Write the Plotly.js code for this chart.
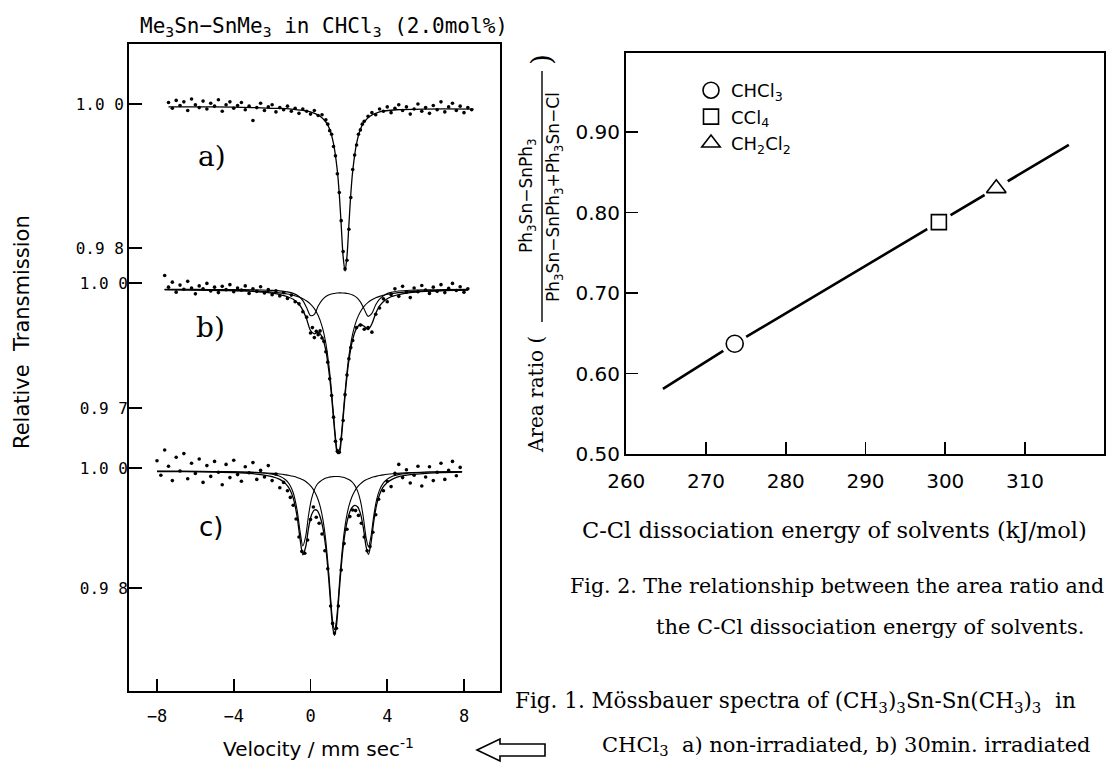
<!DOCTYPE html>
<html><head><meta charset="utf-8">
<script src="https://cdn.plot.ly/plotly-3.0.1.min.js"></script>
<style>html,body{margin:0;padding:0;background:#fff;}#chart{width:1108px;height:764px;}</style>
</head><body><div id="chart"></div>
<script>
// ---------- Fig. 1 : Mössbauer spectra (velocity mm/s, relative transmission) ----------
const velA = [-7.4,-7.2,-7.0,-6.8,-6.6,-6.4,-6.2,-6.0,-5.8,-5.6,-5.4,-5.2,-5.0,-4.8,-4.6,-4.4,-4.2,-4.0,-3.8,-3.6,-3.4,-3.2,-3.0,-2.8,-2.6,-2.4,-2.2,-2.0,-1.8,-1.6,-1.4,-1.2,-1.0,-0.8,-0.6,-0.4,-0.2,0.0,0.2,0.4,0.6,0.8,
  0.9,1.0,1.1,1.2,1.3,1.4,1.5,1.6,1.7,1.8,1.9,2.0,2.1,2.2,2.3,2.4,2.5,2.6,2.7,2.8,
  3.0,3.2,3.4,3.6,3.8,4.0,4.2,4.4,4.6,4.8,5.0,5.2,5.4,5.6,5.8,6.0,6.2,6.4,6.6,6.8,7.0,7.2,7.4,7.6,7.8,8.0,8.2,8.4];
const transA = [1.0002,0.9994,1.0005,0.9998,1.0003,0.9991,1.0007,0.9999,0.9995,1.0004,0.9993,1.0001,0.9997,1.0006,0.9990,0.9999,1.0003,0.9994,0.9998,1.0002,0.9992,0.9997,0.9977,0.9995,1.0001,0.9991,0.9996,0.9999,0.9989,0.9995,0.9992,0.9997,0.9990,0.9994,0.9987,0.9993,0.9990,0.9986,0.9991,0.9984,0.9985,0.9978,
  0.9972,0.9963,0.9958,0.9941,0.9928,0.9903,0.9877,0.9838,0.9795,0.9771,0.9783,0.9826,0.9870,0.9909,0.9929,0.9943,0.9958,0.9964,0.9972,0.9976,
  0.9983,0.9988,0.9985,0.9993,0.9990,0.9996,0.9988,0.9994,0.9999,0.9991,0.9996,0.9986,0.9993,1.0000,0.9990,0.9995,0.9987,0.9998,0.9992,1.0003,0.9989,0.9996,1.0001,0.9991,0.9997,0.9988,0.9995,0.9992];
const fitVelA = [-7.4,-5,-3,-2,-1,0,0.5,0.8,1.0,1.2,1.4,1.5,1.6,1.7,1.8,1.9,2.0,2.1,2.2,2.4,2.6,2.8,3.1,3.6,4.5,6,8.5];
const fitA = [0.9996,0.9996,0.9995,0.9994,0.9993,0.9989,0.9983,0.9975,0.9965,0.9945,0.9907,0.9875,0.9832,0.9788,0.9768,0.9788,0.9832,0.9875,0.9907,0.9945,0.9965,0.9975,0.9983,0.9989,0.9992,0.9993,0.9993];

const velB = [-7.6,-7.4,-7.2,-7.0,-6.8,-6.6,-6.4,-6.2,-6.0,-5.8,-5.6,-5.4,-5.2,-5.0,-4.8,-4.6,-4.4,-4.2,-4.0,-3.8,-3.6,-3.4,-3.2,-3.0,-2.8,-2.6,-2.4,-2.2,-2.0,-1.8,-1.6,-1.4,-1.2,-1.0,-0.8,-0.6,-0.4,-0.2,
  0.0,0.1,0.2,0.3,0.4,0.5,0.6,0.7,0.8,0.9,1.0,1.1,1.2,1.3,1.4,1.5,1.6,1.7,1.8,1.9,2.0,2.1,2.2,
  2.4,2.6,2.8,3.0,3.2,3.4,3.6,3.8,4.0,4.2,4.4,4.6,4.8,5.0,5.2,5.4,5.6,5.8,6.0,6.2,6.4,6.6,6.8,7.0,7.2,7.4,7.6,7.8,8.0,8.2];
const transB = [1.0018,0.9990,1.0002,0.9978,0.9995,0.9985,1.0004,0.9988,0.9974,0.9993,0.9986,0.9999,0.9981,0.9990,0.9977,0.9992,0.9984,0.9996,0.9979,0.9988,0.9983,0.9993,0.9975,0.9986,0.9980,0.9991,0.9976,0.9984,0.9972,0.9981,0.9969,0.9977,0.9963,0.9971,0.9955,0.9950,0.9931,0.9918,
  0.9880,0.9893,0.9869,0.9884,0.9876,0.9885,0.9868,0.9860,0.9835,0.9810,0.9770,0.9730,0.9678,0.9620,0.9596,0.9594,0.9625,0.9670,0.9732,0.9779,0.9818,0.9845,0.9862,
  0.9893,0.9899,0.9889,0.9893,0.9882,0.9925,0.9940,0.9962,0.9955,0.9972,0.9986,0.9968,0.9992,0.9978,0.9965,0.9988,0.9979,0.9994,0.9983,0.9975,0.9990,0.9980,0.9996,0.9977,0.9987,0.9999,0.9982,0.9991,0.9978,0.9986];
const fitVelB = [-7.6,-6,-4.5,-3.5,-2.5,-2,-1.5,-1.2,-0.9,-0.6,-0.4,-0.2,0,0.2,0.4,0.6,0.8,1.0,1.1,1.2,1.3,1.4,1.5,1.6,1.7,1.8,1.9,2.0,2.2,2.4,2.6,2.8,3.0,3.2,3.4,3.6,3.9,4.2,4.6,5.2,6,7,8.2];
const fitB = [0.9984,0.9983,0.9982,0.9981,0.9978,0.99755,0.9971,0.9967,0.9961,0.9949,0.9935,0.9913,0.9886,0.9878,0.9882,0.9871,0.9838,0.9773,0.9727,0.9674,0.9623,0.9592,0.9591,0.9623,0.9675,0.9729,0.9776,0.9814,0.9865,0.9891,0.9901,0.9896,0.9888,0.9902,0.9927,0.9945,0.9959,0.9967,0.9972,0.9977,0.9980,0.9982,0.9983];
const singletB = [0.9984,0.99835,0.99827,0.99817,0.99798,0.99782,0.99757,0.99736,0.99706,0.99663,0.99623,0.99569,0.99493,0.99385,0.99222,0.98966,0.9855,0.97857,0.9738,0.9684,0.9632,0.9600,0.9600,0.9632,0.9684,0.9738,0.97857,0.98245,0.98784,0.99109,0.99312,0.99444,0.99534,0.99598,0.99645,0.99679,0.99717,0.99744,0.99769,0.99792,0.9981,0.99823,0.99832];
const doubletB = [0.99848,0.99846,0.99843,0.9984,0.99832,0.99823,0.99806,0.99787,0.99751,0.99676,0.99577,0.99407,0.99219,0.99247,0.99447,0.99591,0.99677,0.99723,0.99737,0.99747,0.99755,0.99759,0.99762,0.99762,0.99761,0.99757,0.9975,0.99743,0.99712,0.99654,0.99548,0.9937,0.9920,0.9927,0.9948,0.99615,0.99725,0.99775,0.99807,0.99826,0.99836,0.99842,0.99846];

const velC = [-8.0,-7.8,-7.6,-7.4,-7.2,-7.0,-6.8,-6.6,-6.4,-6.2,-6.0,-5.8,-5.6,-5.4,-5.2,-5.0,-4.8,-4.6,-4.4,-4.2,-4.0,-3.8,-3.6,-3.4,-3.2,-3.0,-2.8,-2.6,-2.4,-2.2,-2.0,-1.8,-1.6,-1.4,-1.2,
  -1.05,-0.9,-0.75,-0.6,-0.45,-0.3,-0.15,0.0,0.15,0.3,0.45,0.6,0.75,0.9,1.05,1.15,1.25,1.35,1.45,1.6,1.75,1.9,2.05,2.2,2.35,2.5,2.65,2.8,2.95,3.1,3.25,3.4,3.55,
  3.8,4.0,4.2,4.4,4.6,4.8,5.0,5.2,5.4,5.6,5.8,6.0,6.2,6.4,6.6,6.8,7.0,7.2,7.4,7.6,7.8];
const transC = [1.0012,0.9988,1.0030,1.0003,0.9979,1.0018,0.9995,1.0024,0.9982,1.0008,0.9991,1.0015,0.9976,1.0004,0.9986,1.0011,0.9993,0.9972,1.0006,0.9984,1.0013,0.9989,0.9978,1.0002,0.9992,1.0009,0.9981,0.9996,0.9985,1.0004,0.9979,0.9990,0.9967,0.9976,0.9962,
  0.9951,0.9938,0.9915,0.9885,0.9861,0.9858,0.9880,0.9914,0.9935,0.9918,0.9908,0.9890,0.9862,0.9832,0.9770,0.9741,0.9725,0.9733,0.9770,0.9830,0.9874,0.9898,0.9919,0.9930,0.9929,0.9921,0.9908,0.9885,0.9862,0.9869,0.9893,0.9922,0.9948,
  0.9962,0.9978,0.9969,0.9991,1.0006,0.9984,0.9997,0.9975,0.9988,1.0003,0.9970,0.9985,1.0002,0.9979,0.9993,1.0008,0.9981,0.9996,1.0011,0.9987,1.0001];
const fitVelC = [-8.0,-6.5,-5,-4,-3,-2.5,-2,-1.6,-1.3,-1.1,-0.9,-0.7,-0.55,-0.4,-0.25,-0.1,0.05,0.2,0.35,0.5,0.65,0.8,0.95,1.05,1.15,1.25,1.35,1.45,1.55,1.7,1.85,2.0,2.15,2.3,2.45,2.6,2.75,2.9,3.02,3.15,3.3,3.45,3.6,3.8,4.0,4.3,4.7,5.3,6.2,7.9];
const fitC = [0.99942,0.99938,0.99931,0.99923,0.99905,0.99887,0.99857,0.9981,0.9974,0.99654,0.99498,0.99194,0.98832,0.98553,0.98687,0.99003,0.99215,0.993,0.99292,0.99189,0.98995,0.98662,0.9815,0.97732,0.97362,0.97209,0.97365,0.97738,0.98159,0.98675,0.99016,0.99222,0.99335,0.99378,0.99354,0.99244,0.99011,0.98686,0.98559,0.98745,0.99116,0.99392,0.9956,0.99688,0.9976,0.9982,0.99863,0.99893,0.99916,0.99931];
const singletC = [0.99945,0.99943,0.99939,0.99935,0.99927,0.9992,0.9991,0.99899,0.99886,0.99875,0.99861,0.99843,0.99825,0.99803,0.99774,0.99736,0.99685,0.99614,0.99513,0.99364,0.99135,0.9878,0.98254,0.9783,0.97456,0.973,0.97456,0.9783,0.98254,0.9878,0.99135,0.99364,0.99513,0.99614,0.99685,0.99736,0.99774,0.99803,0.99821,0.99838,0.99853,0.99865,0.99875,0.99886,0.99895,0.99905,0.99915,0.99924,0.99933,0.9994];
const doubletC = [0.99947,0.99945,0.99942,0.99938,0.99928,0.99917,0.99897,0.99862,0.99804,0.99729,0.99587,0.99301,0.98957,0.987,0.98863,0.99217,0.9948,0.99636,0.99729,0.99775,0.9981,0.99832,0.99846,0.99852,0.99856,0.99859,0.99859,0.99858,0.99855,0.99845,0.99831,0.99808,0.99772,0.99714,0.99619,0.99458,0.99187,0.98833,0.98688,0.98857,0.99213,0.99477,0.99635,0.99752,0.99815,0.99865,0.99898,0.99919,0.99933,0.99941];

const velTickVals = [-8,-4,0,4,8];
const velTickText = ['−8','−4','0','4','8'];
const tickValsA = [1.00,0.98], tickTextA = ['1.0 0','0.9 8'];
const tickValsB = [1.00,0.97], tickTextB = ['1.0 0','0.9 7'];
const tickValsC = [1.00,0.98], tickTextC = ['1.0 0','0.9 8'];

// ---------- Fig. 2 : area ratio vs C-Cl dissociation energy ----------
const solvents = ['CHCl<sub>3</sub>','CCl<sub>4</sub>','CH<sub>2</sub>Cl<sub>2</sub>'];
const solventSymbols = ['circle','square','triangle-up'];
const energy = [273.6, 299.2, 306.4];
const ratio = [0.637, 0.788, 0.830];
const lineEnergy = [264.6, 273.6, 299.2, 306.4, 315.5];
const lineRatio = [0.581, 0.637, 0.788, 0.830, 0.884];
const energyTicks = [260,270,280,290,300,310];
const ratioTicks = [0.50,0.60,0.70,0.80,0.90];
const ratioTickText = ['0.50','0.60','0.70','0.80','0.90'];

// ---------- layout helpers (pixel -> paper) ----------
const W = 1108, H = 764;
const fx = p => p / W, fy = p => 1 - p / H;
function rangeAt(v1, p1, v2, p2, pa, pb) { const k = (v2 - v1) / (p2 - p1); return [v1 + (pa - p1) * k, v1 + (pb - p1) * k]; }
const L1 = 129, R1 = 500, T1 = 44, B1 = 691;
const L2 = 626, R2 = 1104, T2 = 53, B2 = 454;

const black = '#000';
const monoFont = {family: 'DejaVu Sans Mono', size: 16, color: black};

function pts(x, y, ya) { return {x, y, yaxis: ya, xaxis: 'x', type: 'scatter', mode: 'markers', marker: {size: 3.6, color: black}, showlegend: false, hoverinfo: 'skip'}; }
function fit(x, y, ya, w) { return {x, y, yaxis: ya, xaxis: 'x', type: 'scatter', mode: 'lines', line: {color: black, width: w || 1.3, shape: 'spline', smoothing: 0.8}, showlegend: false, hoverinfo: 'skip'}; }

const traces = [
  pts(velA, transA, 'y'), fit(fitVelA, fitA, 'y'),
  pts(velB, transB, 'y2'), fit(fitVelB, singletB, 'y2', 1.1), fit(fitVelB, doubletB, 'y2', 1.1), fit(fitVelB, fitB, 'y2'),
  pts(velC, transC, 'y3'), fit(fitVelC, singletC, 'y3', 1.1), fit(fitVelC, doubletC, 'y3', 1.1), fit(fitVelC, fitC, 'y3'),
  {x: lineEnergy, y: lineRatio, xaxis: 'x2', yaxis: 'y4', type: 'scatter', mode: 'lines', line: {color: black, width: 2.6}, showlegend: false, hoverinfo: 'skip'},
  {x: energy, y: ratio, xaxis: 'x2', yaxis: 'y4', type: 'scatter', mode: 'markers', marker: {size: 27, color: '#fff', symbol: 'circle'}, showlegend: false, hoverinfo: 'skip'}
];
solvents.forEach((s, i) => traces.push({
  x: [energy[i]], y: [ratio[i]], name: s, xaxis: 'x2', yaxis: 'y4', type: 'scatter', mode: 'markers',
  marker: {size: i === 1 ? 15 : 17, symbol: solventSymbols[i], color: '#fff', line: {color: black, width: 1.6}},
  hoverinfo: 'skip'
}));

const yBase = {anchor: 'x', domain: [fy(B1), fy(T1)], showgrid: false, zeroline: false, ticks: 'inside', ticklen: 13, tickwidth: 1.6, tickcolor: black, tickfont: monoFont, fixedrange: true};

const serif = 'DejaVu Serif';
const annotations = [
  {text: 'Me<sub>3</sub>Sn−SnMe<sub>3</sub> in CHCl<sub>3</sub> (2.0mol%)', x: fx(324), y: fy(27), font: {family: 'DejaVu Sans Mono', size: 21}},
  {text: 'a)', x: fx(212), y: fy(157), font: {family: serif, size: 28}},
  {text: 'b)', x: fx(210), y: fy(327), font: {family: serif, size: 28}},
  {text: 'c)', x: fx(211), y: fy(527), font: {family: 'DejaVu Sans', size: 26}},
  {text: 'Relative  Transmission', x: fx(22), y: fy(332), textangle: -90, font: {family: 'DejaVu Sans', size: 21}},
  {text: 'Velocity / mm sec<sup>-1</sup>', x: fx(318), y: fy(748), font: {family: 'DejaVu Sans', size: 20}},
  {text: 'Area ratio (', x: fx(536), y: fy(395), textangle: -90, font: {family: serif, size: 20}},
  {text: ')', x: fx(541), y: fy(60), textangle: -90, font: {family: serif, size: 28}},
  {text: 'Ph<sub>3</sub>Sn−SnPh<sub>3</sub>', x: fx(527), y: fy(196), textangle: -90, font: {family: 'DejaVu Sans', size: 17}},
  {text: 'Ph<sub>3</sub>Sn−SnPh<sub>3</sub>+Ph<sub>3</sub>Sn−Cl', x: fx(554), y: fy(197), textangle: -90, font: {family: 'DejaVu Sans', size: 17}},
  {text: 'C-Cl dissociation energy of solvents (kJ/mol)', x: fx(834), y: fy(530), font: {family: serif, size: 22.5}},
  {text: 'Fig. 2. The relationship between the area ratio and', x: fx(568), y: fy(586), xanchor: 'left', font: {family: serif, size: 20.6}},
  {text: 'the C-Cl dissociation energy of solvents.', x: fx(654), y: fy(627), xanchor: 'left', font: {family: serif, size: 21}},
  {text: 'Fig. 1. Mössbauer spectra of (CH<sub>3</sub>)<sub>3</sub>Sn-Sn(CH<sub>3</sub>)<sub>3</sub>  in', x: fx(513), y: fy(702), xanchor: 'left', font: {family: serif, size: 21.5}},
  {text: 'CHCl<sub>3</sub>  a) non-irradiated, b) 30min. irradiated', x: fx(600), y: fy(746), xanchor: 'left', font: {family: serif, size: 21}}
].map(a => Object.assign({xref: 'paper', yref: 'paper', showarrow: false, xanchor: 'center', yanchor: 'middle'}, a));
annotations.forEach(a => { a.font = Object.assign({color: black}, a.font); });

function pathPx(points) { return points.map((p, i) => (i ? 'L' : 'M') + fx(p[0]).toFixed(5) + ',' + fy(p[1]).toFixed(5)).join(' ') + ' Z'; }
const shapes = [
  {type: 'path', xref: 'paper', yref: 'paper', path: pathPx([[477, 750], [500, 739], [500, 744], [545, 744], [545, 756], [500, 756], [500, 761]]), line: {color: black, width: 1.6}, fillcolor: 'rgba(0,0,0,0)'},
  {type: 'line', xref: 'paper', yref: 'paper', x0: fx(542), x1: fx(542), y0: fy(71), y1: fy(322), line: {color: black, width: 1.4}}
];

const layout = {
  width: W, height: H, margin: {l: 0, r: 0, t: 0, b: 0, pad: 0},
  paper_bgcolor: '#fff', plot_bgcolor: 'rgba(0,0,0,0)',
  font: {family: 'DejaVu Sans', color: black},
  showlegend: true,
  legend: {x: fx(691), y: fy(72), xanchor: 'left', yanchor: 'top', font: {family: 'DejaVu Sans', size: 18, color: black}, bgcolor: 'rgba(0,0,0,0)', tracegroupgap: 0},
  xaxis: {domain: [fx(L1), fx(R1)], range: rangeAt(-8, 157, 8, 464, L1, R1), anchor: 'y', showline: true, mirror: true, linewidth: 2, linecolor: black,
    showgrid: false, zeroline: false, ticks: 'inside', ticklen: 12, tickwidth: 1.6, tickcolor: black, tickvals: velTickVals, ticktext: velTickText, tickfont: {family: 'DejaVu Sans Mono', size: 17, color: black}, ticklabelstandoff: 9},
  yaxis: Object.assign({}, yBase, {range: rangeAt(1.00, 104, 0.98, 248, B1, T1), tickvals: tickValsA, ticktext: tickTextA, showline: true, mirror: true, linewidth: 2, linecolor: black}),
  yaxis2: Object.assign({}, yBase, {overlaying: 'y', range: rangeAt(1.00, 283, 0.97, 408, B1, T1), tickvals: tickValsB, ticktext: tickTextB, showline: false}),
  yaxis3: Object.assign({}, yBase, {overlaying: 'y', range: rangeAt(1.00, 468, 0.98, 588, B1, T1), tickvals: tickValsC, ticktext: tickTextC, showline: false}),
  xaxis2: {domain: [fx(L2), fx(R2)], range: rangeAt(270, 706, 310, 1025, L2, R2), anchor: 'y4', showline: true, mirror: true, linewidth: 2, linecolor: black,
    showgrid: false, zeroline: false, ticks: 'inside', ticklen: 12, tickwidth: 1.6, tickcolor: black, tickvals: energyTicks, tickfont: {family: 'DejaVu Sans', size: 20, color: black}, ticklabelstandoff: 8},
  yaxis4: {domain: [fy(B2), fy(T2)], range: rangeAt(0.5, 454, 0.9, 132, B2, T2), anchor: 'x2', showline: true, mirror: true, linewidth: 2, linecolor: black,
    showgrid: false, zeroline: false, ticks: 'inside', ticklen: 12, tickwidth: 1.6, tickcolor: black, tickvals: ratioTicks, ticktext: ratioTickText, tickfont: {family: 'DejaVu Sans', size: 20, color: black}},
  annotations, shapes
};

Plotly.newPlot('chart', traces, layout, {staticPlot: true, displayModeBar: false});
</script></body></html>
